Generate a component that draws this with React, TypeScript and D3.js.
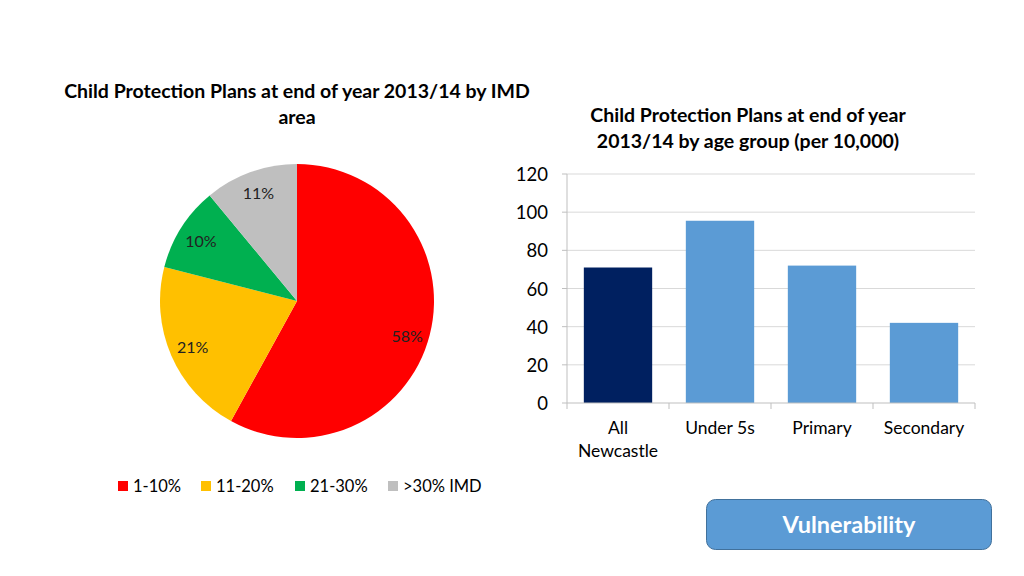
import React, { useMemo } from 'react';
import * as d3 from 'd3';

// Pie: IMD area shares
const imdLabels = ['1-10%', '11-20%', '21-30%', '>30% IMD'];
const imdShares = [58, 21, 10, 11];
const imdColors = ['#FF0000', '#FFC000', '#00B050', '#BFBFBF'];

// Bars: rate per 10,000 by age group
const ageGroups = [['All', 'Newcastle'], ['Under 5s'], ['Primary'], ['Secondary']];
const ageRates = [71, 95.5, 72, 42];
const barColors = ['#002060', '#5B9BD5', '#5B9BD5', '#5B9BD5'];
const yTicks = [0, 20, 40, 60, 80, 100, 120];

const FONT = 'Lato, "Open Sans", sans-serif';

const PIE = { cx: 297, cy: 301, r: 137 };
const BAR = { left: 567, right: 975, top: 174, bottom: 403 };

export default function App() {
  const arcs = useMemo(
    () => d3.pie<number>().sort(null).value((d) => d)(imdShares),
    []
  );
  const arcGen = d3.arc<d3.PieArcDatum<number>>().innerRadius(0).outerRadius(PIE.r);
  const labelArc = d3.arc<d3.PieArcDatum<number>>().innerRadius(PIE.r * 0.66).outerRadius(PIE.r);

  const x = d3
    .scaleBand<number>()
    .domain(ageRates.map((_, i) => i))
    .range([BAR.left, BAR.right])
    .paddingInner(0.33)
    .paddingOuter(0.165);
  const y = d3.scaleLinear().domain([0, 120]).range([BAR.bottom, BAR.top]);
  const step = (BAR.right - BAR.left) / ageRates.length;

  const legendX = [118, 201, 295, 388];

  return (
    <svg width={1024} height={576} style={{ position: 'absolute', left: 0, top: 0 }} fontFamily={FONT}>
      <rect width={1024} height={576} fill="#fff" />

      {/* Pie title */}
      <text x={297} y={98} textAnchor="middle" fontSize={19.5} fontWeight="bold" fill="#000">
        Child Protection Plans at end of year 2013/14 by IMD
      </text>
      <text x={297} y={124} textAnchor="middle" fontSize={19.5} fontWeight="bold" fill="#000">
        area
      </text>

      {/* Pie */}
      <g transform={`translate(${PIE.cx},${PIE.cy})`}>
        {arcs.map((a, i) => (
          <path key={i} d={arcGen(a) ?? ''} fill={imdColors[i]} />
        ))}
        {arcs.map((a, i) => {
          const [lx, ly] = labelArc.centroid(a);
          return (
            <text key={i} x={lx} y={ly + (i === 0 ? 6 : i === 3 ? -2 : 0)} textAnchor="middle" dominantBaseline="central" fontSize={16} fill="#222">
              {imdShares[i]}%
            </text>
          );
        })}
      </g>

      {/* Legend */}
      {imdLabels.map((l, i) => (
        <g key={l}>
          <rect x={legendX[i]} y={481} width={10} height={10} fill={imdColors[i]} />
          <text x={legendX[i] + 15} y={492} fontSize={16.5} fill="#000">
            {l}
          </text>
        </g>
      ))}

      {/* Bar title */}
      <text x={748} y={122} textAnchor="middle" fontSize={19.5} fontWeight="bold" fill="#000">
        Child Protection Plans at end of year
      </text>
      <text x={748} y={148} textAnchor="middle" fontSize={19.5} fontWeight="bold" fill="#000">
        2013/14 by age group (per 10,000)
      </text>

      {/* Grid + y axis */}
      {yTicks.map((t) => (
        <g key={t}>
          {t > 0 && (
            <line x1={BAR.left} x2={BAR.right} y1={y(t)} y2={y(t)} stroke="#D9D9D9" strokeWidth={1} />
          )}
          <line x1={BAR.left - 5} x2={BAR.left} y1={y(t)} y2={y(t)} stroke="#BFBFBF" />
          <text x={548} y={y(t)} textAnchor="end" dominantBaseline="central" fontSize={18.5} fill="#000">
            {t}
          </text>
        </g>
      ))}
      <line x1={BAR.left} x2={BAR.left} y1={BAR.top} y2={BAR.bottom} stroke="#BFBFBF" />

      {/* Bars */}
      {ageRates.map((v, i) => (
        <rect key={i} x={x(i)} y={y(v)} width={x.bandwidth()} height={y(0) - y(v)} fill={barColors[i]} />
      ))}

      {/* X axis */}
      <line x1={BAR.left} x2={BAR.right} y1={BAR.bottom} y2={BAR.bottom} stroke="#BFBFBF" />
      {d3.range(ageRates.length + 1).map((k) => (
        <line
          key={k}
          x1={BAR.left + k * step}
          x2={BAR.left + k * step}
          y1={BAR.bottom}
          y2={BAR.bottom + 6}
          stroke="#BFBFBF"
        />
      ))}
      {ageGroups.map((lines, i) => (
        <text key={i} textAnchor="middle" fontSize={17.5} fill="#000">
          {lines.map((ln, j) => (
            <tspan key={j} x={(x(i) ?? 0) + x.bandwidth() / 2} y={434 + j * 23}>
              {ln}
            </tspan>
          ))}
        </text>
      ))}

      {/* Vulnerability badge */}
      <rect x={706.5} y={499.5} width={285} height={50} rx={9} fill="#5B9BD5" stroke="#41719C" strokeWidth={1} />
      <text x={849} y={524} textAnchor="middle" dominantBaseline="central" fontSize={23.5} fontWeight="bold" fill="#fff">
        Vulnerability
      </text>
    </svg>
  );
}
